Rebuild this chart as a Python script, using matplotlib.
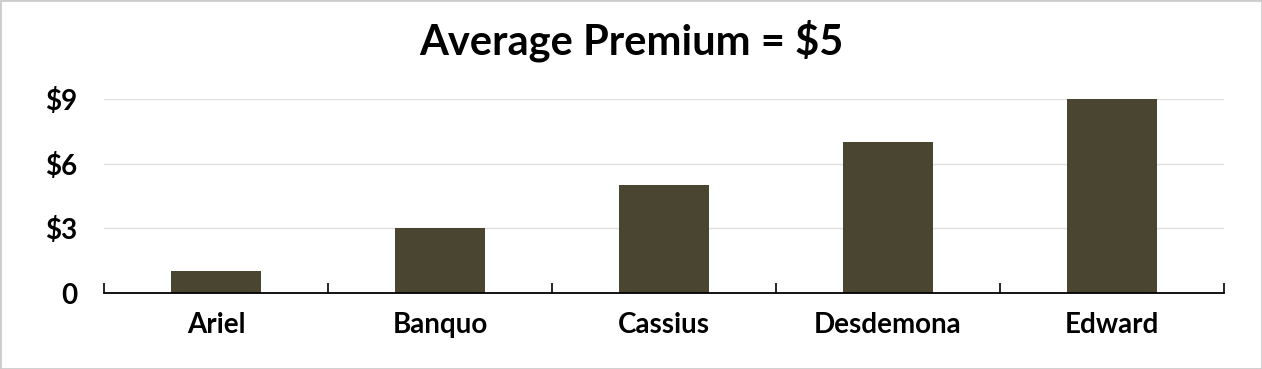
import matplotlib.pyplot as plt
import numpy as np
from matplotlib.patches import Rectangle

# data
names = ["Ariel", "Banquo", "Cassius", "Desdemona", "Edward"]
premiums = [1, 3, 5, 7, 9]
y_ticks = [0, 3, 6, 9]
y_labels = ["0", "$3", "$6", "$9"]
title = "Average Premium = $5"

bar_color = "#4a4530"
plt.rcParams['font.family'] = ['Lato', 'DejaVu Sans']

fig = plt.figure(figsize=(12.62, 3.69), dpi=100)
ax = fig.add_axes([104 / 1262, 1 - 293 / 369, 1120 / 1262, 194 / 369])

x = np.arange(len(names))
ax.bar(x, premiums, width=0.4, color=bar_color, zorder=3)

ax.set_xlim(-0.5, len(names) - 0.5)
ax.set_ylim(0, 9)

ax.set_yticks(y_ticks)
ax.set_yticklabels(y_labels, fontsize=20, fontweight='bold')
ax.tick_params(axis='y', length=0, pad=19)
ax.grid(axis='y', color='#e0e0e0', linewidth=1, zorder=0)

# category labels, ticks on the boundaries between categories
ax.set_xticks(x)
ax.set_xticklabels(names, fontsize=20, fontweight='bold')
ax.tick_params(axis='x', which='major', length=0, pad=14)
ax.set_xticks(np.arange(len(names) + 1) - 0.5, minor=True)
ax.tick_params(axis='x', which='minor', direction='in', length=7, width=1.2, color='black')

for side in ['top', 'right', 'left']:
    ax.spines[side].set_visible(False)
ax.spines['bottom'].set_linewidth(1.3)
ax.spines['bottom'].set_zorder(4)

fig.text(0.5, 1 - 41 / 369, title, ha='center', va='center', fontsize=30, fontweight='bold')

# thin grey frame round the picture
fig.patches.append(Rectangle((0, 0), 1, 1, transform=fig.transFigure, fill=False,
                             edgecolor='#cccccc', linewidth=2))

fig.savefig("out.png", dpi=100)
